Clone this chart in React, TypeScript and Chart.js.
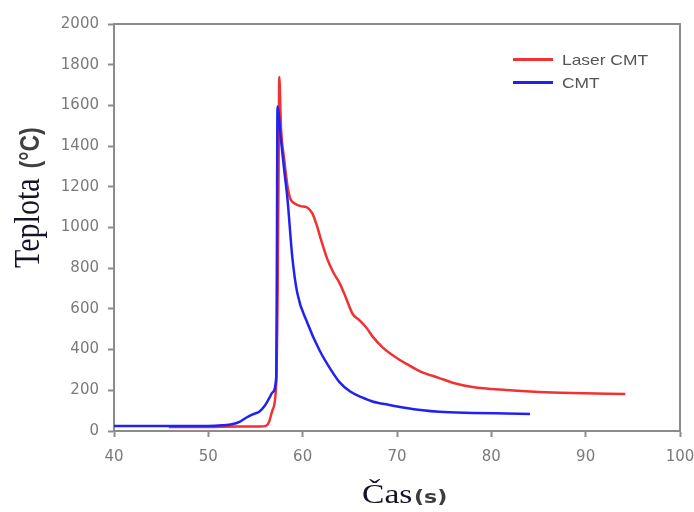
import React, { useEffect, useRef } from 'react';
import { Chart, registerables } from 'chart.js';

Chart.register(...registerables);

// ---- data ----
const seriesLabels = ['Laser CMT', 'CMT'];
const seriesColors = ['#f03232', '#2222f0'];

const laserTime = [45.8, 50, 53, 55.5, 56.1, 56.4, 56.8, 57.2, 57.35, 57.45, 57.52, 57.7, 58.05, 58.4, 58.7, 59.1, 59.8, 60.4, 61.0, 61.5, 61.95, 62.65, 63.3, 63.9, 64.5, 65.3, 66.0, 66.8, 67.4, 68.5, 70.3, 71, 72.5, 74.5, 76, 78, 81.6, 85.1, 88.6, 94.2];
const laserTemp = [20, 20, 22, 22, 25, 40, 103, 236, 700, 1300, 1740, 1495, 1332, 1200, 1140, 1119, 1105, 1100, 1072, 1010, 939, 840, 775, 728, 665, 575, 545, 505, 465, 410, 349, 330, 292, 260, 236, 216, 201, 192, 187, 182];

const cmtTime = [40, 45, 50, 51.5, 52.5, 53.3, 54, 54.7, 55.4, 56, 56.5, 56.8, 57.2, 57.27, 57.33, 57.7, 58.05, 58.4, 58.9, 59.43, 60.5, 61.77, 63.0, 63.9, 65.0, 66.3, 67.4, 69.2, 71, 72.5, 74.5, 78, 81.6, 84.1];
const cmtTemp = [25, 25, 25, 28, 33, 45, 65, 82, 95, 125, 165, 190, 265, 900, 1594, 1430, 1280, 1135, 855, 678, 531, 398, 300, 240, 195, 165, 145, 128, 113, 103, 94, 89, 86, 84];

const xMin = 40, xMax = 100, xStep = 10;
const yMin = 0, yMax = 2000, yStep = 200;

const xTitleMain = 'Čas';
const xTitleUnit = '(s)';
const yTitleMain = 'Teplota';
const yTitleUnit = '(°C)';

const toPoints = (xs: number[], ys: number[]) => xs.map((x, i) => ({ x, y: ys[i] }));

const decorPlugin = {
  id: 'decor',
  afterDraw(chart: any) {
    const { ctx, chartArea: a } = chart;
    ctx.save();
    // frame top and right
    ctx.strokeStyle = '#8c8c8c';
    ctx.lineWidth = 2;
    ctx.beginPath();
    ctx.moveTo(a.left, a.top);
    ctx.lineTo(a.right, a.top);
    ctx.lineTo(a.right, a.bottom);
    ctx.stroke();

    // legend
    chart.data.datasets.forEach((ds: any, i: number) => {
      const y = a.top + 35.5 + i * 23;
      ctx.strokeStyle = ds.borderColor;
      ctx.lineWidth = 3;
      ctx.beginPath();
      ctx.moveTo(a.right - 167, y);
      ctx.lineTo(a.right - 127, y);
      ctx.stroke();
      ctx.save();
      ctx.translate(a.right - 118, y);
      ctx.scale(1.2, 1);
      ctx.fillStyle = '#555555';
      ctx.font = '14.5px "Liberation Sans", Arial, sans-serif';
      ctx.textBaseline = 'middle';
      ctx.textAlign = 'left';
      ctx.fillText(ds.label, 0, 1);
      ctx.restore();
    });

    // x title
    ctx.save();
    ctx.translate(362, 503);
    ctx.scale(1.2, 1);
    ctx.fillStyle = '#141428';
    ctx.font = '28px "Liberation Serif", "Times New Roman", serif';
    ctx.textBaseline = 'alphabetic';
    ctx.textAlign = 'left';
    ctx.fillText(xTitleMain, 0, 0);
    const wMain = ctx.measureText(xTitleMain).width;
    ctx.restore();
    ctx.save();
    ctx.translate(362 + wMain * 1.2 + 1.5, 503);
    ctx.scale(1.3, 1);
    ctx.fillStyle = '#3c3c3c';
    ctx.font = 'bold 17px "DejaVu Sans", sans-serif';
    ctx.textBaseline = 'alphabetic';
    ctx.fillText(xTitleUnit, 0, 0);
    ctx.restore();

    // y title
    ctx.save();
    ctx.translate(39, 268);
    ctx.scale(1.2, 1);
    ctx.rotate(-Math.PI / 2);
    ctx.fillStyle = '#141428';
    ctx.font = '30px "Liberation Serif", "Times New Roman", serif';
    ctx.textBaseline = 'alphabetic';
    ctx.textAlign = 'left';
    ctx.fillText(yTitleMain, 0, 0);
    const wy = ctx.measureText(yTitleMain).width;
    ctx.fillStyle = '#404040';
    ctx.font = 'bold 23px "Liberation Sans", Arial, sans-serif';
    ctx.fillText(yTitleUnit, wy + 10, 0);
    ctx.restore();

    ctx.restore();
  },
};

export default function App() {
  const canvasRef = useRef<HTMLCanvasElement>(null);

  useEffect(() => {
    document.body.style.margin = '0';
    const canvas = canvasRef.current;
    if (!canvas) return;
    const chart = new Chart(canvas, {
      type: 'line',
      data: {
        datasets: [
          {
            label: seriesLabels[0],
            data: toPoints(laserTime, laserTemp),
            borderColor: seriesColors[0],
            backgroundColor: seriesColors[0],
            borderWidth: 2.5,
            pointRadius: 0,
            cubicInterpolationMode: 'monotone',
            order: 2,
          },
          {
            label: seriesLabels[1],
            data: toPoints(cmtTime, cmtTemp),
            borderColor: seriesColors[1],
            backgroundColor: seriesColors[1],
            borderWidth: 2.5,
            pointRadius: 0,
            cubicInterpolationMode: 'monotone',
            order: 1,
          },
        ],
      },
      options: {
        responsive: false,
        animation: false,
        events: [],
        layout: { padding: { top: 24, right: 14, left: 0, bottom: 0 } },
        plugins: {
          legend: { display: false },
          tooltip: { enabled: false },
          title: { display: false },
        },
        scales: {
          x: {
            type: 'linear',
            min: xMin,
            max: xMax,
            ticks: {
              stepSize: xStep,
              color: '#7a7a7a',
              font: { family: '"DejaVu Sans", sans-serif', size: 15 },
              padding: 11,
              maxRotation: 0,
              callback: (v: any) => String(v),
            },
            grid: {
              display: true,
              drawOnChartArea: false,
              drawTicks: true,
              tickLength: 6,
              tickColor: '#8c8c8c',
              tickWidth: 2,
            },
            border: { display: true, color: '#8c8c8c', width: 2 },
            afterFit: (s: any) => { s.height = 81; s.paddingLeft = 0; s.paddingRight = 0; },
          },
          y: {
            type: 'linear',
            min: yMin,
            max: yMax,
            ticks: {
              stepSize: yStep,
              color: '#7a7a7a',
              font: { family: '"DejaVu Sans", sans-serif', size: 15 },
              padding: 9,
              callback: (v: any) => String(v),
            },
            grid: {
              display: true,
              drawOnChartArea: false,
              drawTicks: true,
              tickLength: 6,
              tickColor: '#8c8c8c',
              tickWidth: 2,
            },
            border: { display: true, color: '#8c8c8c', width: 2 },
            afterFit: (s: any) => { s.width = 114; s.paddingTop = 0; s.paddingBottom = 0; },
          },
        },
      },
      plugins: [decorPlugin],
    });
    return () => chart.destroy();
  }, []);

  return (
    <div style={{ width: 694, height: 512, background: '#ffffff' }}>
      <canvas ref={canvasRef} width={694} height={512} />
    </div>
  );
}
